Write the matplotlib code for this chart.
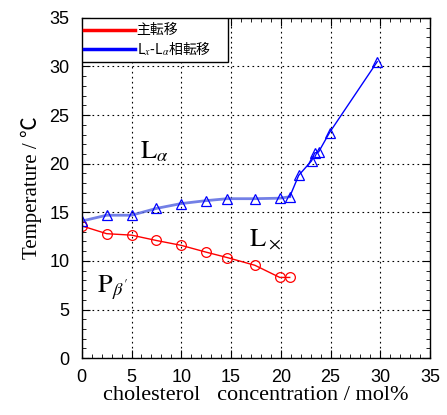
import matplotlib
matplotlib.use('Agg')
import matplotlib.pyplot as plt
from matplotlib.ticker import MultipleLocator

# main transition (red circles)
x_main = [0, 2.5, 5, 7.5, 10, 12.5, 14.6, 17.4, 19.9, 20.9]
t_main = [13.6, 12.8, 12.65, 12.1, 11.6, 10.9, 10.35, 9.55, 8.3, 8.3]

# Lx-La transition (blue triangles)
x_lx = [0, 2.5, 5, 7.5, 10, 12.5, 14.6, 17.4, 19.9, 20.9, 21.8, 23.1, 23.4, 23.8, 24.9, 29.7]
t_lx = [14.1, 14.7, 14.7, 15.4, 15.9, 16.2, 16.4, 16.4, 16.45, 16.6, 18.8, 20.3, 21.1, 21.2, 23.2, 30.5]
n_flat = 10  # points on the smooth low part

plt.rcParams['mathtext.fontset'] = 'stix'
tick_font = 'Liberation Sans'
serif = ['Liberation Serif', 'Noto Sans CJK JP']
jp_font = ['Noto Sans CJK JP', 'DejaVu Sans']

fig = plt.figure(figsize=(4.47, 4.15), dpi=100)
ax = fig.add_axes([0.183, 0.137, 0.779, 0.82])

ax.plot(x_main, t_main, color='red', lw=1.0, marker='o', ms=7, mfc='none', mec='red', mew=0.9)
ax.plot(x_lx[:n_flat], t_lx[:n_flat], color='#5060e0', lw=2.0, alpha=0.8)
ax.plot(x_lx[n_flat - 1:], t_lx[n_flat - 1:], color='blue', lw=1.0)
ax.plot(x_lx, t_lx, ls='none', marker='^', ms=7, mfc='none', mec='blue', mew=0.9)

ax.set_xlim(0, 35)
ax.set_ylim(0, 35)
ax.xaxis.set_major_locator(MultipleLocator(5))
ax.yaxis.set_major_locator(MultipleLocator(5))
ax.xaxis.set_minor_locator(MultipleLocator(1))
ax.yaxis.set_minor_locator(MultipleLocator(1))
ax.tick_params(which='both', direction='in', top=True, right=True)
ax.tick_params(which='major', length=6, labelsize=13)
ax.tick_params(axis='x', which='major', pad=8)
ax.tick_params(axis='y', which='major', pad=9)
ax.tick_params(which='minor', length=3)
for lab in ax.get_xticklabels() + ax.get_yticklabels():
    lab.set_family(tick_font)
ax.grid(True, which='major', color='black', ls=(0, (1.5, 3)), lw=0.8)
for sp in ax.spines.values():
    sp.set_linewidth(1.0)

ax.set_xlabel('cholesterol   concentration / mol%', family=serif, fontsize=16, labelpad=0)
ax.set_ylabel('Temperature / \u2103', family=serif, fontsize=15, labelpad=5)

ax.text(5.8, 21.3, r'$\mathrm{L}_\alpha$', fontsize=19, va='center')
ax.text(16.8, 12.3, r'$\mathrm{L}_\times$', fontsize=19, va='center')
ax.text(1.5, 7.2, r"$\mathrm{P}_{\beta'}$", fontsize=19, va='center')

# legend box
lx0, lx1, ly0, ly1 = 0.0, 14.7, 30.5, 35.0
ax.fill([lx0, lx1, lx1, lx0], [ly0, ly0, ly1, ly1], color='white', ec='black', lw=1.0, zorder=5)
ax.plot([0.2, 5.3], [33.8, 33.8], color='red', lw=2.5, zorder=6)
ax.plot([0.2, 5.3], [31.8, 31.8], color='blue', lw=2.5, zorder=6)
ax.text(5.5, 33.8, '主転移', family=jp_font, fontsize=10, va='center', zorder=6)
ax.text(5.5, 31.8, 'L$_x$-L$_\\alpha$相転移', family=jp_font, fontsize=10, va='center', zorder=6)

fig.savefig('out.png', dpi=100)
